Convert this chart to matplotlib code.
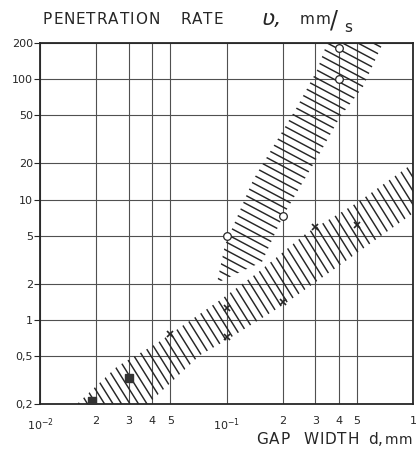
import numpy as np
import matplotlib
matplotlib.use('Agg')
import matplotlib.pyplot as plt
from matplotlib.patches import Polygon
from matplotlib.collections import LineCollection
from matplotlib.transforms import IdentityTransform

INK = "#262626"
GRID = "#505050"

# measured points: gap width d (mm) vs penetration rate v (mm/s)
sq_x = [0.019, 0.030]
sq_y = [0.21, 0.33]
cross_x = [0.05, 0.1, 0.1, 0.2, 0.3, 0.5]
cross_y = [0.77, 1.25, 0.72, 1.4, 5.9, 6.2]
circ_x = [0.1, 0.2, 0.4, 0.4]
circ_y = [5.0, 7.3, 100, 182]

# lower scatter band (steep hatching)
low_top_x = [0.0158, 0.0259, 0.0424, 0.0923, 0.146, 0.270, 0.501, 1.0]
low_top_y = [0.2, 0.41, 0.64, 1.46, 2.45, 5.3, 9.4, 20.0]
low_bot_x = [1.0, 0.406, 0.201, 0.1, 0.0721, 0.0379]
low_bot_y = [7.7, 2.86, 1.33, 0.68, 0.51, 0.2]

# upper scatter band (shallow hatching)
up_left_x = [0.0889, 0.0982, 0.139, 0.187, 0.239, 0.306, 0.346]
up_left_y = [2.03, 4.2, 14.6, 31.3, 58.9, 119, 200]
up_right_x = [0.69, 0.539, 0.406, 0.317, 0.201, 0.155]
up_right_y = [200, 86.3, 48.6, 24.4, 7.31, 3.03]

x_ticks = [0.01, 0.02, 0.03, 0.04, 0.05, 0.1, 0.2, 0.3, 0.4, 0.5, 1.0]
x_labels = [r'$10^{-2}$', '2', '3', '4', '5', r'$10^{-1}$', '2', '3', '4', '5', '1']
y_ticks = [0.2, 0.5, 1, 2, 5, 10, 20, 50, 100, 200]
y_labels = ['0,2', '0,5', '1', '2', '5', '10', '20', '50', '100', '200']

W, H = 416, 454


def hatch(ax, xs, ys, angle, step, lw=1.0):
    """Fill a data-space polygon with parallel strokes at a given angle."""
    pts = np.column_stack([xs, ys])
    poly = Polygon(pts, closed=True, fill=False, edgecolor='none')
    ax.add_patch(poly)
    disp = ax.transData.transform(pts)
    lo, hi = disp.min(axis=0), disp.max(axis=0)
    t = np.radians(angle)
    d = np.array([np.cos(t), -np.sin(t)])
    n = np.array([np.sin(t), np.cos(t)])
    c = (lo + hi) / 2
    r = np.hypot(*(hi - lo))
    segs = [[c + n * k - d * r, c + n * k + d * r] for k in np.arange(-r, r, step)]
    lc = LineCollection(segs, colors=INK, linewidths=lw,
                        transform=IdentityTransform())
    ax.add_collection(lc)
    lc.set_clip_path(poly)


def spaced_text(fig, x_px, y_px, s, size, track):
    """Draw text letter by letter with extra tracking (pixels from top-left)."""
    r = fig.canvas.get_renderer()
    x = x_px
    for ch in s:
        t = fig.text(x / W, 1 - y_px / H, ch, fontsize=size, color=INK,
                     va='center', ha='left')
        w = t.get_window_extent(r).width
        x += w + track
    return x


fig = plt.figure(figsize=(W / 100, H / 100), dpi=100)
ax = fig.add_axes([40 / W, 1 - 404 / H, 373 / W, 361 / H])
ax.set_xscale('log')
ax.set_yscale('log')
ax.set_xlim(0.01, 1.0)
ax.set_ylim(0.2, 200)

ax.set_xticks(x_ticks)
ax.set_xticklabels(x_labels)
ax.set_yticks(y_ticks)
ax.set_yticklabels(y_labels)
ax.minorticks_off()
ax.tick_params(axis='x', length=0, pad=9, labelsize=8, colors=INK)
ax.tick_params(axis='y', length=4, width=0.8, pad=1, labelsize=8, colors=INK)
ax.grid(True, color=GRID, linewidth=0.8)
ax.set_axisbelow(True)
for s in ax.spines.values():
    s.set_color(INK)
    s.set_linewidth(1.3)

hatch(ax, low_top_x + low_bot_x, low_top_y + low_bot_y, 58, 7.2, lw=1.05)
hatch(ax, up_left_x + up_right_x, up_left_y + up_right_y, 28, 7.2, lw=1.05)

ax.plot(sq_x, sq_y, 's', color='#333333', markersize=5.5, zorder=5)
ax.plot(cross_x, cross_y, 'x', color=INK, markersize=5, mew=1.2, zorder=5)
ax.plot(circ_x, circ_y, 'o', mfc='white', mec=INK, markersize=5.5, mew=0.9, zorder=5)

spaced_text(fig, 43, 20, 'PENETRATION', 11, 0.9)
spaced_text(fig, 180, 20, 'RATE', 11, 0.9)
fig.text(262 / W, 1 - 19 / H, 'ʋ,', fontsize=16, style='italic',
         color=INK, va='center', ha='left')
spaced_text(fig, 300, 19, 'mm', 11, 0.3)
fig.text(330 / W, 1 - 20 / H, '/', fontsize=17, color=INK,
         va='center', ha='left')
fig.text(344 / W, 1 - 28 / H, 's', fontsize=11, color=INK,
         va='center', ha='left')
spaced_text(fig, 256, 440, 'GAP', 11, 0.9)
spaced_text(fig, 303, 440, 'WIDTH', 11, 0.9)
spaced_text(fig, 368, 440, 'd,', 11, 0.3)
spaced_text(fig, 385, 440, 'mm', 10, 0.0)

fig.savefig('out.png', dpi=100)
